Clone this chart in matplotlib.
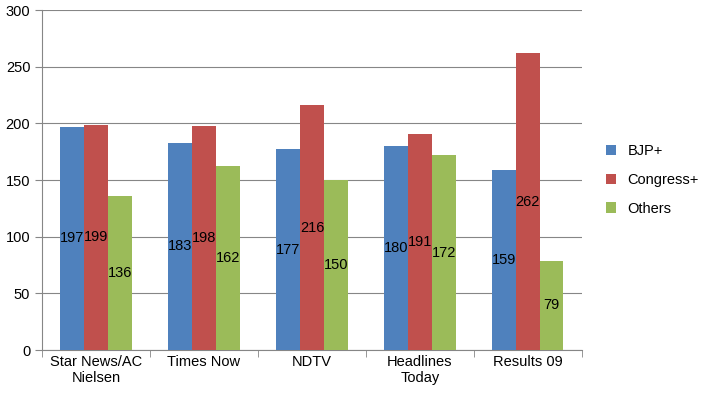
import matplotlib
matplotlib.use("Agg")
import matplotlib.pyplot as plt
import numpy as np

categories = ["Star News/AC\nNielsen", "Times Now", "NDTV", "Headlines\nToday", "Results 09"]
bjp = [197, 183, 177, 180, 159]
congress = [199, 198, 216, 191, 262]
others = [136, 162, 150, 172, 79]

series = [("BJP+", bjp, "#4F81BD"), ("Congress+", congress, "#C0504D"), ("Others", others, "#9BBB59")]

plt.rcParams["font.family"] = ["Liberation Sans", "DejaVu Sans"]
fig = plt.figure(figsize=(7.01, 4.01), dpi=100)
ax = fig.add_axes([0.06, 0.127, 0.77, 0.848])

x = np.arange(len(categories))
width = 0.22
for i, (name, vals, color) in enumerate(series):
    pos = x + (i - 1) * width
    ax.bar(pos, vals, width, color=color, label=name, zorder=3)
    for p, v in zip(pos, vals):
        ax.text(p, v / 2, str(v), ha="center", va="center", fontsize=10.5, zorder=4)

ax.set_xlim(-0.5, len(categories) - 0.5)
ax.set_ylim(0, 300)
ax.set_yticks(range(0, 301, 50))
ax.yaxis.grid(True, color="#868686", linewidth=0.8, zorder=0)
ax.set_xticks(x)
ax.set_xticklabels(categories, fontsize=10.5)
ax.set_xticks(np.arange(-0.5, len(categories)), minor=True)
ax.tick_params(axis="x", which="major", length=0)
ax.tick_params(axis="x", which="minor", length=5, color="#868686")
ax.tick_params(axis="y", labelsize=10.5, length=5, color="#868686")
for s in ["top", "right"]:
    ax.spines[s].set_visible(False)
for s in ["left", "bottom"]:
    ax.spines[s].set_color("#868686")

ax.legend(loc="center left", bbox_to_anchor=(1.02, 0.5), frameon=False, fontsize=10.5,
          handlelength=0.7, handleheight=0.7, labelspacing=1.0)

fig.savefig("out.png", dpi=100)
